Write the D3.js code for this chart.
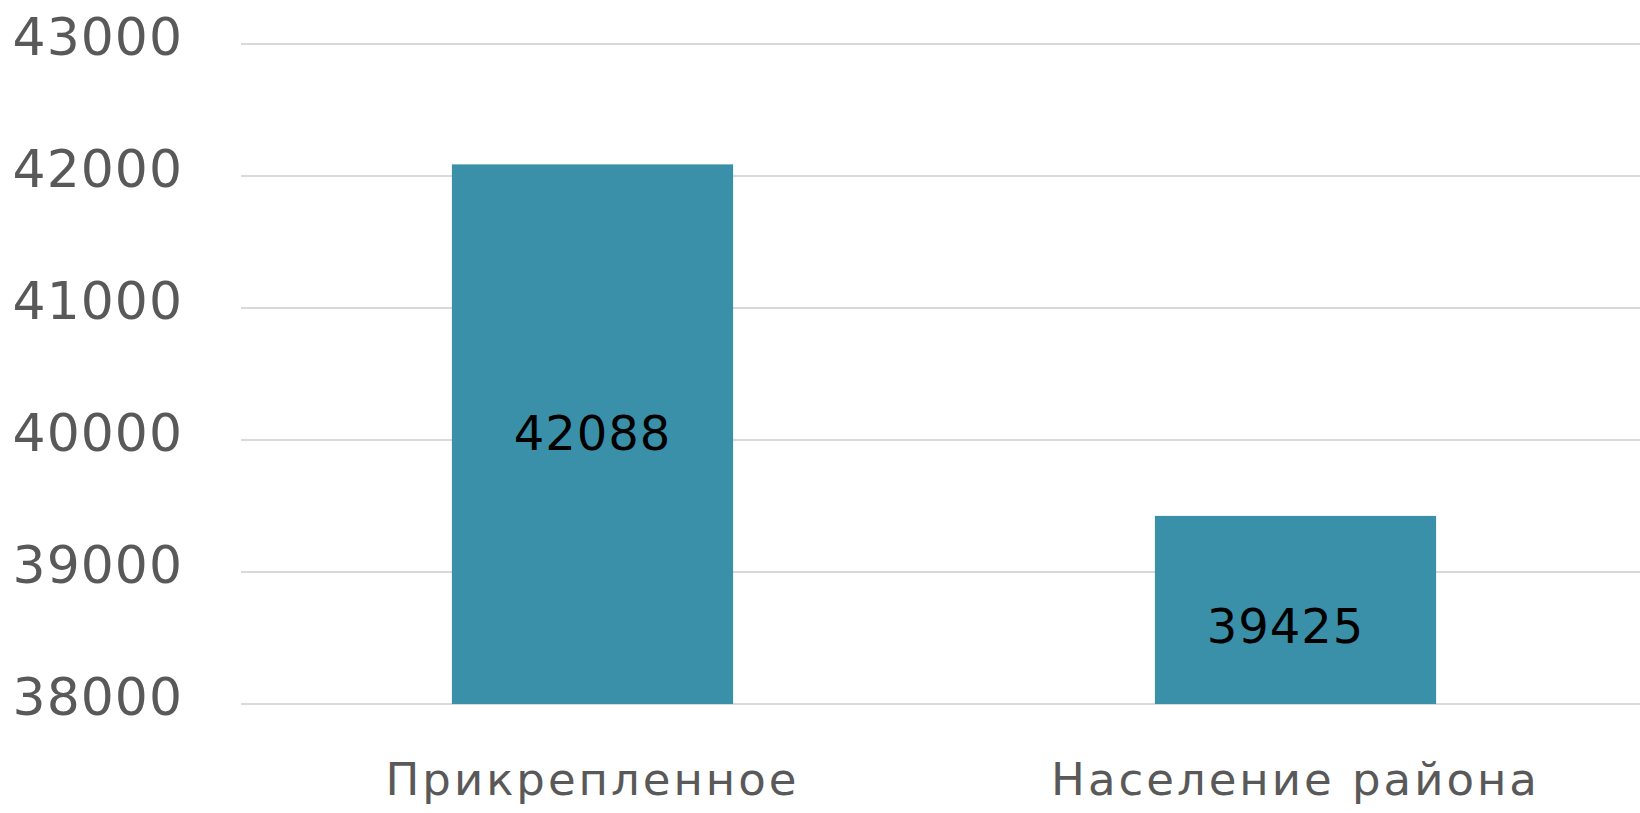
<!DOCTYPE html>
<html>
<head>
<meta charset="utf-8">
<script src="https://cdn.jsdelivr.net/npm/d3@7"></script>
<style>
  body { margin: 0; background: #fff; }
  svg { display: block; }
</style>
</head>
<body>
<svg id="chart"></svg>
<script>
// chart data
var categories = ["Прикрепленное", "Население района"];
var values = [42088, 39425];
var yTicks = [38000, 39000, 40000, 41000, 42000, 43000];

var width = 1640;
var height = 813;

var svg = d3.select("#chart")
  .attr("width", width)
  .attr("height", height);

// scales
var x = d3.scaleBand()
  .domain(categories)
  .range([241, 1647])
  .paddingInner(0.6)
  .paddingOuter(0.3);

var y = d3.scaleLinear()
  .domain([38000, 43000])
  .range([704, 44]);

// gridlines
svg.append("g")
  .selectAll("line")
  .data(yTicks)
  .enter()
  .append("line")
  .attr("x1", 241)
  .attr("x2", width)
  .attr("y1", d => y(d))
  .attr("y2", d => y(d))
  .attr("stroke", "#d9d9d9")
  .attr("stroke-width", 2);

// y tick labels
svg.append("g")
  .selectAll("text")
  .data(yTicks)
  .enter()
  .append("text")
  .attr("x", 183)
  .attr("y", d => y(d) + 11)
  .attr("text-anchor", "end")
  .attr("font-family", "DejaVu Sans")
  .attr("font-size", "52px")
  .attr("letter-spacing", "1px")
  .attr("fill", "#595959")
  .text(d => d);

// bars
var rows = categories.map((c, i) => ({ cat: c, val: values[i] }));

svg.append("g")
  .selectAll("rect")
  .data(rows)
  .enter()
  .append("rect")
  .attr("x", d => x(d.cat))
  .attr("width", x.bandwidth())
  .attr("y", d => y(d.val))
  .attr("height", d => y(38000) - y(d.val))
  .attr("fill", "#3a90a8");

// value labels, roughly in the middle of each bar
var labelNudge = [16, 33];
var labelShift = [0, -10];
svg.append("g")
  .selectAll("text")
  .data(rows)
  .enter()
  .append("text")
  .attr("x", (d, i) => x(d.cat) + x.bandwidth() / 2 + labelShift[i])
  .attr("y", (d, i) => (y(d.val) + y(38000)) / 2 + labelNudge[i])
  .attr("text-anchor", "middle")
  .attr("font-family", "DejaVu Sans")
  .attr("font-size", "48px")
  .attr("letter-spacing", "1px")
  .attr("fill", "#000")
  .text(d => d.val);

// category labels
svg.append("g")
  .selectAll("text")
  .data(categories)
  .enter()
  .append("text")
  .attr("x", d => x(d) + x.bandwidth() / 2)
  .attr("y", 795)
  .attr("text-anchor", "middle")
  .attr("font-family", "DejaVu Sans")
  .attr("font-size", "45px")
  .attr("letter-spacing", "3px")
  .attr("fill", "#595959")
  .text(d => d);
</script>
</body>
</html>
